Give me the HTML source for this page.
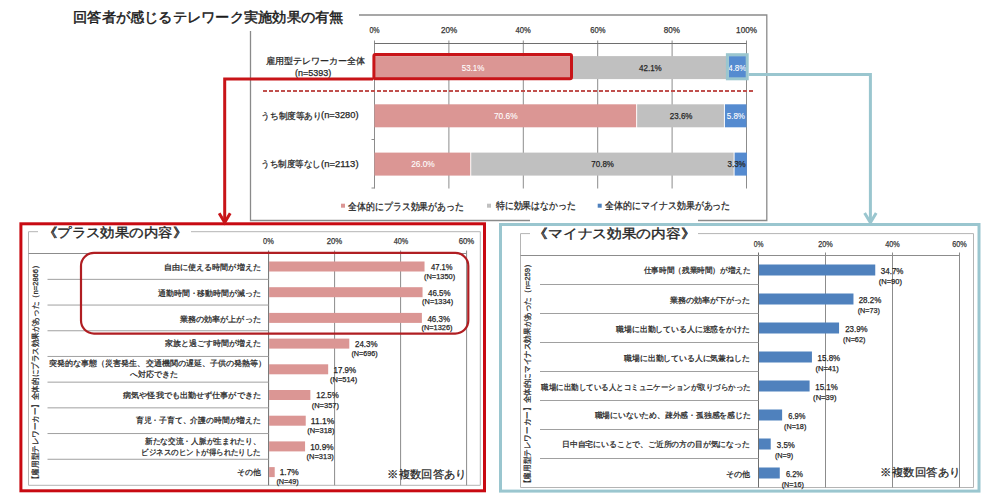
<!DOCTYPE html><html><head><meta charset="utf-8"><style>html,body{margin:0;padding:0;background:#fff;width:994px;height:499px;overflow:hidden}svg{display:block;font-family:"Liberation Sans",sans-serif}</style></head><body>
<svg width="994" height="499" viewBox="0 0 994 499">
<path d="M250.5 31 V220.5 H530 M698 220.5 H766.8 V15 H359" fill="none" stroke="#8a8a8a" stroke-width="1.3"/>
<text x="73.15" y="21.91" font-size="14.2" fill="#1a1a1a" textLength="270.30" lengthAdjust="spacingAndGlyphs" stroke="#1a1a1a" stroke-width="0.45">回答者が感じるテレワーク実施効果の有無</text>
<text x="369.40" y="33.35" font-size="8.8" fill="#333" textLength="10.20" lengthAdjust="spacingAndGlyphs" stroke="#333" stroke-width="0.25">0%</text>
<line x1="374.50" y1="40.50" x2="374.50" y2="188.50" stroke="#8c8c8c" stroke-width="1" />
<text x="441.04" y="33.35" font-size="8.8" fill="#333" textLength="16.17" lengthAdjust="spacingAndGlyphs" stroke="#333" stroke-width="0.25">20%</text>
<line x1="448.90" y1="40.50" x2="448.90" y2="188.50" stroke="#8c8c8c" stroke-width="1" />
<text x="515.57" y="33.35" font-size="8.8" fill="#333" textLength="15.22" lengthAdjust="spacingAndGlyphs" stroke="#333" stroke-width="0.25">40%</text>
<line x1="523.30" y1="40.50" x2="523.30" y2="188.50" stroke="#8c8c8c" stroke-width="1" />
<text x="590.21" y="33.35" font-size="8.8" fill="#333" textLength="15.22" lengthAdjust="spacingAndGlyphs" stroke="#333" stroke-width="0.25">60%</text>
<line x1="597.70" y1="40.50" x2="597.70" y2="188.50" stroke="#8c8c8c" stroke-width="1" />
<text x="663.79" y="33.35" font-size="8.8" fill="#333" textLength="16.17" lengthAdjust="spacingAndGlyphs" stroke="#333" stroke-width="0.25">80%</text>
<line x1="672.10" y1="40.50" x2="672.10" y2="188.50" stroke="#8c8c8c" stroke-width="1" />
<text x="736.10" y="33.35" font-size="8.8" fill="#333" textLength="20.88" lengthAdjust="spacingAndGlyphs" stroke="#333" stroke-width="0.25">100%</text>
<line x1="746.50" y1="40.50" x2="746.50" y2="188.50" stroke="#8c8c8c" stroke-width="1" />
<line x1="374.50" y1="43.50" x2="746.50" y2="43.50" stroke="#6e6e6e" stroke-width="1" />
<line x1="371.50" y1="91.50" x2="374.50" y2="91.50" stroke="#8c8c8c" stroke-width="1" />
<line x1="371.50" y1="139.50" x2="374.50" y2="139.50" stroke="#8c8c8c" stroke-width="1" />
<line x1="371.50" y1="188.00" x2="374.50" y2="188.00" stroke="#8c8c8c" stroke-width="1" />
<rect x="374.50" y="56.10" width="196.53" height="23.00" fill="#db9694" />
<rect x="572.03" y="56.10" width="155.61" height="23.00" fill="#c0c0c0" />
<rect x="728.64" y="56.10" width="17.86" height="23.00" fill="#558bd0" />
<text x="461.72" y="71.15" font-size="8.8" fill="#fff" textLength="22.71" lengthAdjust="spacingAndGlyphs" stroke="#fff" stroke-width="0.1">53.1%</text>
<text x="639.00" y="71.15" font-size="8.8" fill="#262626" textLength="22.71" lengthAdjust="spacingAndGlyphs" stroke="#262626" stroke-width="0.25">42.1%</text>
<text x="728.18" y="71.15" font-size="8.8" fill="#fff" textLength="18.27" lengthAdjust="spacingAndGlyphs" stroke="#fff" stroke-width="0.1">4.8%</text>
<rect x="374.50" y="104.30" width="261.63" height="23.00" fill="#db9694" />
<rect x="637.13" y="104.30" width="86.79" height="23.00" fill="#c0c0c0" />
<rect x="724.92" y="104.30" width="21.58" height="23.00" fill="#558bd0" />
<text x="493.95" y="118.95" font-size="8.8" fill="#fff" textLength="23.65" lengthAdjust="spacingAndGlyphs" stroke="#fff" stroke-width="0.1">70.6%</text>
<text x="669.77" y="118.95" font-size="8.8" fill="#262626" textLength="22.67" lengthAdjust="spacingAndGlyphs" stroke="#262626" stroke-width="0.25">23.6%</text>
<text x="726.73" y="118.95" font-size="8.8" fill="#fff" textLength="18.27" lengthAdjust="spacingAndGlyphs" stroke="#fff" stroke-width="0.1">5.8%</text>
<rect x="374.50" y="152.60" width="95.72" height="23.00" fill="#db9694" />
<rect x="471.22" y="152.60" width="262.38" height="23.00" fill="#c0c0c0" />
<rect x="734.60" y="152.60" width="12.28" height="23.00" fill="#558bd0" />
<text x="411.13" y="167.15" font-size="8.8" fill="#fff" textLength="23.65" lengthAdjust="spacingAndGlyphs" stroke="#fff" stroke-width="0.1">26.0%</text>
<text x="591.31" y="167.15" font-size="8.8" fill="#262626" textLength="22.67" lengthAdjust="spacingAndGlyphs" stroke="#262626" stroke-width="0.25">70.8%</text>
<text x="727.47" y="167.15" font-size="8.8" fill="#262626" textLength="18.27" lengthAdjust="spacingAndGlyphs" stroke="#262626" stroke-width="0.25">3.3%</text>
<text x="266.04" y="64.21" font-size="9.2" fill="#262626" textLength="99.51" lengthAdjust="spacingAndGlyphs" stroke="#262626" stroke-width="0.25">雇用型テレワーカー全体</text>
<text x="295.05" y="75.52" font-size="9" fill="#262626" textLength="36.29" lengthAdjust="spacingAndGlyphs" stroke="#262626" stroke-width="0.25">(n=5393)</text>
<text x="261.21" y="118.71" font-size="9.2" fill="#262626" textLength="60.59" lengthAdjust="spacingAndGlyphs" stroke="#262626" stroke-width="0.25">うち制度等あり</text>
<text x="321.06" y="118.12" font-size="9" fill="#262626" textLength="37.47" lengthAdjust="spacingAndGlyphs" stroke="#262626" stroke-width="0.25">(n=3280)</text>
<text x="261.24" y="166.91" font-size="9.2" fill="#262626" textLength="59.53" lengthAdjust="spacingAndGlyphs" stroke="#262626" stroke-width="0.25">うち制度等なし</text>
<text x="321.06" y="167.32" font-size="9" fill="#262626" textLength="37.50" lengthAdjust="spacingAndGlyphs" stroke="#262626" stroke-width="0.25">(n=2113)</text>
<line x1="263.00" y1="91.00" x2="754.00" y2="91.00" stroke="#c0504d" stroke-width="2" stroke-dasharray="4 2"/>
<rect x="341.00" y="203.70" width="4.00" height="4.00" fill="#db9694" />
<text x="348.39" y="209.70" font-size="10" fill="#262626" textLength="115.41" lengthAdjust="spacingAndGlyphs" stroke="#262626" stroke-width="0.25">全体的にプラス効果があった</text>
<rect x="487.00" y="203.70" width="4.00" height="4.00" fill="#c0c0c0" />
<text x="495.77" y="209.20" font-size="10" fill="#262626" textLength="80.02" lengthAdjust="spacingAndGlyphs" stroke="#262626" stroke-width="0.25">特に効果はなかった</text>
<rect x="597.70" y="203.70" width="4.00" height="4.00" fill="#4f81bd" />
<text x="605.00" y="209.20" font-size="10" fill="#262626" textLength="125.40" lengthAdjust="spacingAndGlyphs" stroke="#262626" stroke-width="0.25">全体的にマイナス効果があった</text>
<rect x="20.9" y="223.8" width="463.6" height="267" fill="none" stroke="#c80a12" stroke-width="3"/>
<path d="M38 231.7 H28.5 V485.3 H480.3 V231.7 H191" fill="none" stroke="#b4b4b4" stroke-width="1"/>
<text x="42.75" y="236.85" font-size="13.2" fill="#262626" textLength="144.20" lengthAdjust="spacingAndGlyphs" stroke="#262626" stroke-width="0.35">《プラス効果の内容》</text>
<text x="263.09" y="244.35" font-size="8.8" fill="#333" textLength="10.74" lengthAdjust="spacingAndGlyphs" stroke="#333" stroke-width="0.25">0%</text>
<text x="326.64" y="244.35" font-size="8.8" fill="#333" textLength="15.50" lengthAdjust="spacingAndGlyphs" stroke="#333" stroke-width="0.25">20%</text>
<line x1="334.60" y1="250.50" x2="334.60" y2="485.30" stroke="#8c8c8c" stroke-width="1" />
<text x="393.63" y="244.35" font-size="8.8" fill="#333" textLength="14.53" lengthAdjust="spacingAndGlyphs" stroke="#333" stroke-width="0.25">40%</text>
<line x1="400.60" y1="250.50" x2="400.60" y2="485.30" stroke="#8c8c8c" stroke-width="1" />
<text x="458.64" y="244.35" font-size="8.8" fill="#333" textLength="15.50" lengthAdjust="spacingAndGlyphs" stroke="#333" stroke-width="0.25">60%</text>
<line x1="466.60" y1="250.50" x2="466.60" y2="485.30" stroke="#8c8c8c" stroke-width="1" />
<line x1="268.60" y1="250.50" x2="268.60" y2="485.30" stroke="#6e6e6e" stroke-width="1" />
<line x1="28.50" y1="253.50" x2="466.60" y2="253.50" stroke="#8c8c8c" stroke-width="1" />
<line x1="47.50" y1="279.35" x2="268.60" y2="279.35" stroke="#a0a0a0" stroke-width="1" />
<rect x="269.10" y="261.50" width="155.43" height="10.00" fill="#db9694" />
<text x="164.12" y="269.58" font-size="8.0" fill="#262626" textLength="96.57" lengthAdjust="spacingAndGlyphs" stroke="#262626" stroke-width="0.25">自由に使える時間が増えた</text>
<text x="430.94" y="270.08" font-size="8.6" fill="#262626" textLength="21.61" lengthAdjust="spacingAndGlyphs" stroke="#262626" stroke-width="0.25">47.1%</text>
<text x="424.02" y="278.56" font-size="8.0" fill="#262626" textLength="31.09" lengthAdjust="spacingAndGlyphs" stroke="#262626" stroke-width="0.25">(N=1350)</text>
<line x1="47.50" y1="305.05" x2="268.60" y2="305.05" stroke="#a0a0a0" stroke-width="1" />
<rect x="269.10" y="287.20" width="153.45" height="10.00" fill="#db9694" />
<text x="157.92" y="295.88" font-size="8.0" fill="#262626" textLength="102.77" lengthAdjust="spacingAndGlyphs" stroke="#262626" stroke-width="0.25">通勤時間・移動時間が減った</text>
<text x="428.02" y="295.88" font-size="8.6" fill="#262626" textLength="22.59" lengthAdjust="spacingAndGlyphs" stroke="#262626" stroke-width="0.25">46.5%</text>
<text x="422.10" y="304.36" font-size="8.0" fill="#262626" textLength="31.09" lengthAdjust="spacingAndGlyphs" stroke="#262626" stroke-width="0.25">(N=1334)</text>
<line x1="47.50" y1="330.75" x2="268.60" y2="330.75" stroke="#a0a0a0" stroke-width="1" />
<rect x="269.10" y="312.90" width="152.79" height="10.00" fill="#db9694" />
<text x="179.91" y="321.68" font-size="8.0" fill="#262626" textLength="80.77" lengthAdjust="spacingAndGlyphs" stroke="#262626" stroke-width="0.25">業務の効率が上がった</text>
<text x="427.44" y="321.68" font-size="8.6" fill="#262626" textLength="22.51" lengthAdjust="spacingAndGlyphs" stroke="#262626" stroke-width="0.25">46.3%</text>
<text x="421.44" y="330.16" font-size="8.0" fill="#262626" textLength="31.09" lengthAdjust="spacingAndGlyphs" stroke="#262626" stroke-width="0.25">(N=1326)</text>
<line x1="47.50" y1="356.45" x2="268.60" y2="356.45" stroke="#a0a0a0" stroke-width="1" />
<rect x="269.10" y="338.60" width="80.19" height="10.00" fill="#db9694" />
<text x="164.92" y="345.98" font-size="8.0" fill="#262626" textLength="95.76" lengthAdjust="spacingAndGlyphs" stroke="#262626" stroke-width="0.25">家族と過ごす時間が増えた</text>
<text x="355.02" y="347.48" font-size="8.6" fill="#262626" textLength="22.59" lengthAdjust="spacingAndGlyphs" stroke="#262626" stroke-width="0.25">24.3%</text>
<text x="351.47" y="355.96" font-size="8.0" fill="#262626" textLength="26.25" lengthAdjust="spacingAndGlyphs" stroke="#262626" stroke-width="0.25">(N=696)</text>
<line x1="47.50" y1="382.15" x2="268.60" y2="382.15" stroke="#a0a0a0" stroke-width="1" />
<rect x="269.10" y="364.30" width="59.07" height="10.00" fill="#db9694" />
<text x="49.31" y="366.38" font-size="8.0" fill="#262626" textLength="216.47" lengthAdjust="spacingAndGlyphs" stroke="#262626" stroke-width="0.25">突発的な事態（災害発生、交通機関の遅延、子供の発熱等）</text>
<text x="130.12" y="376.78" font-size="8.0" fill="#262626" textLength="48.17" lengthAdjust="spacingAndGlyphs" stroke="#262626" stroke-width="0.25">へ対応できた</text>
<text x="333.54" y="373.28" font-size="8.6" fill="#262626" textLength="22.59" lengthAdjust="spacingAndGlyphs" stroke="#262626" stroke-width="0.25">17.9%</text>
<text x="330.01" y="381.76" font-size="8.0" fill="#262626" textLength="27.18" lengthAdjust="spacingAndGlyphs" stroke="#262626" stroke-width="0.25">(N=514)</text>
<line x1="47.50" y1="407.85" x2="268.60" y2="407.85" stroke="#a0a0a0" stroke-width="1" />
<rect x="269.10" y="390.00" width="41.25" height="10.00" fill="#db9694" />
<text x="123.12" y="397.58" font-size="8.0" fill="#262626" textLength="137.76" lengthAdjust="spacingAndGlyphs" stroke="#262626" stroke-width="0.25">病気や怪我でも出勤せず仕事ができた</text>
<text x="316.27" y="398.08" font-size="8.6" fill="#262626" textLength="22.55" lengthAdjust="spacingAndGlyphs" stroke="#262626" stroke-width="0.25">12.5%</text>
<text x="311.69" y="407.56" font-size="8.0" fill="#262626" textLength="27.26" lengthAdjust="spacingAndGlyphs" stroke="#262626" stroke-width="0.25">(N=357)</text>
<line x1="47.50" y1="433.55" x2="268.60" y2="433.55" stroke="#a0a0a0" stroke-width="1" />
<rect x="269.10" y="415.70" width="36.63" height="10.00" fill="#db9694" />
<text x="135.72" y="423.38" font-size="8.0" fill="#262626" textLength="125.17" lengthAdjust="spacingAndGlyphs" stroke="#262626" stroke-width="0.25">育児・子育て、介護の時間が増えた</text>
<text x="310.79" y="423.88" font-size="8.6" fill="#262626" textLength="23.53" lengthAdjust="spacingAndGlyphs" stroke="#262626" stroke-width="0.25">11.1%</text>
<text x="307.24" y="433.36" font-size="8.0" fill="#262626" textLength="27.22" lengthAdjust="spacingAndGlyphs" stroke="#262626" stroke-width="0.25">(N=318)</text>
<line x1="47.50" y1="459.25" x2="268.60" y2="459.25" stroke="#a0a0a0" stroke-width="1" />
<rect x="269.10" y="441.40" width="35.97" height="10.00" fill="#db9694" />
<text x="144.92" y="443.78" font-size="8.0" fill="#262626" textLength="115.49" lengthAdjust="spacingAndGlyphs" stroke="#262626" stroke-width="0.25">新たな交流・人脈が生まれたり、</text>
<text x="141.32" y="454.68" font-size="8.0" fill="#262626" textLength="119.56" lengthAdjust="spacingAndGlyphs" stroke="#262626" stroke-width="0.25">ビジネスのヒントが得られたりした</text>
<text x="310.14" y="449.68" font-size="8.6" fill="#262626" textLength="23.53" lengthAdjust="spacingAndGlyphs" stroke="#262626" stroke-width="0.25">10.9%</text>
<text x="306.61" y="459.16" font-size="8.0" fill="#262626" textLength="27.18" lengthAdjust="spacingAndGlyphs" stroke="#262626" stroke-width="0.25">(N=313)</text>
<rect x="269.10" y="467.10" width="5.61" height="10.00" fill="#db9694" />
<text x="236.90" y="475.48" font-size="8.0" fill="#262626" textLength="23.65" lengthAdjust="spacingAndGlyphs" stroke="#262626" stroke-width="0.25">その他</text>
<text x="279.68" y="475.48" font-size="8.6" fill="#262626" textLength="19.10" lengthAdjust="spacingAndGlyphs" stroke="#262626" stroke-width="0.25">1.7%</text>
<text x="276.41" y="483.96" font-size="8.0" fill="#262626" textLength="22.30" lengthAdjust="spacingAndGlyphs" stroke="#262626" stroke-width="0.25">(N=49)</text>
<rect x="81" y="252.9" width="387.3" height="80.7" rx="13" ry="13" fill="none" stroke="#b01e22" stroke-width="2.2"/>
<text transform="translate(35,372.3) rotate(-90)" x="0" y="2.88" font-size="8" text-anchor="middle" fill="#262626" stroke="#262626" stroke-width="0.25" textLength="221.7" lengthAdjust="spacingAndGlyphs">【雇用型テレワーカー】全体的にプラス効果があった（n=2866）</text>
<text x="387.33" y="478.46" font-size="11" fill="#262626" textLength="79.38" lengthAdjust="spacingAndGlyphs" stroke="#262626" stroke-width="0.25">※複数回答あり</text>
<rect x="500.5" y="224.5" width="478.5" height="266.6" fill="none" stroke="#9ac6cf" stroke-width="3"/>
<path d="M530 233.6 H520.5 V487.5 H973.5 V233.6 H698" fill="none" stroke="#b4b4b4" stroke-width="1"/>
<text x="533.49" y="238.05" font-size="13.2" fill="#262626" textLength="161.79" lengthAdjust="spacingAndGlyphs" stroke="#262626" stroke-width="0.35">《マイナス効果の内容》</text>
<text x="753.68" y="246.55" font-size="8.8" fill="#333" textLength="9.76" lengthAdjust="spacingAndGlyphs" stroke="#333" stroke-width="0.25">0%</text>
<text x="818.21" y="246.55" font-size="8.8" fill="#333" textLength="14.59" lengthAdjust="spacingAndGlyphs" stroke="#333" stroke-width="0.25">20%</text>
<line x1="825.50" y1="252.50" x2="825.50" y2="487.50" stroke="#8c8c8c" stroke-width="1" />
<text x="885.22" y="246.55" font-size="8.8" fill="#333" textLength="14.53" lengthAdjust="spacingAndGlyphs" stroke="#333" stroke-width="0.25">40%</text>
<line x1="892.50" y1="252.50" x2="892.50" y2="487.50" stroke="#8c8c8c" stroke-width="1" />
<text x="952.21" y="246.55" font-size="8.8" fill="#333" textLength="14.59" lengthAdjust="spacingAndGlyphs" stroke="#333" stroke-width="0.25">60%</text>
<line x1="959.50" y1="252.50" x2="959.50" y2="487.50" stroke="#8c8c8c" stroke-width="1" />
<line x1="758.50" y1="252.50" x2="758.50" y2="487.50" stroke="#6e6e6e" stroke-width="1" />
<line x1="520.50" y1="255.50" x2="959.50" y2="255.50" stroke="#8c8c8c" stroke-width="1" />
<line x1="540.00" y1="284.50" x2="758.50" y2="284.50" stroke="#a0a0a0" stroke-width="1" />
<rect x="759.00" y="264.50" width="116.25" height="11.00" fill="#4f81bd" />
<text x="643.73" y="273.11" font-size="7.8" fill="#262626" textLength="106.94" lengthAdjust="spacingAndGlyphs" stroke="#262626" stroke-width="0.25">仕事時間（残業時間）が増えた</text>
<text x="880.84" y="274.48" font-size="8.6" fill="#262626" textLength="22.59" lengthAdjust="spacingAndGlyphs" stroke="#262626" stroke-width="0.25">34.7%</text>
<text x="878.73" y="283.76" font-size="8.0" fill="#262626" textLength="23.31" lengthAdjust="spacingAndGlyphs" stroke="#262626" stroke-width="0.25">(N=90)</text>
<line x1="540.00" y1="313.50" x2="758.50" y2="313.50" stroke="#a0a0a0" stroke-width="1" />
<rect x="759.00" y="293.50" width="94.47" height="11.00" fill="#4f81bd" />
<text x="669.53" y="302.61" font-size="7.8" fill="#262626" textLength="80.14" lengthAdjust="spacingAndGlyphs" stroke="#262626" stroke-width="0.25">業務の効率が下がった</text>
<text x="858.70" y="303.48" font-size="8.6" fill="#262626" textLength="22.59" lengthAdjust="spacingAndGlyphs" stroke="#262626" stroke-width="0.25">28.2%</text>
<text x="857.68" y="312.76" font-size="8.0" fill="#262626" textLength="22.30" lengthAdjust="spacingAndGlyphs" stroke="#262626" stroke-width="0.25">(N=73)</text>
<line x1="540.00" y1="342.50" x2="758.50" y2="342.50" stroke="#a0a0a0" stroke-width="1" />
<rect x="759.00" y="322.50" width="80.06" height="11.00" fill="#4f81bd" />
<text x="616.13" y="331.61" font-size="7.8" fill="#262626" textLength="133.54" lengthAdjust="spacingAndGlyphs" stroke="#262626" stroke-width="0.25">職場に出勤している人に迷惑をかけた</text>
<text x="845.14" y="332.48" font-size="8.6" fill="#262626" textLength="22.51" lengthAdjust="spacingAndGlyphs" stroke="#262626" stroke-width="0.25">23.9%</text>
<text x="843.03" y="341.76" font-size="8.0" fill="#262626" textLength="22.30" lengthAdjust="spacingAndGlyphs" stroke="#262626" stroke-width="0.25">(N=62)</text>
<line x1="540.00" y1="371.50" x2="758.50" y2="371.50" stroke="#a0a0a0" stroke-width="1" />
<rect x="759.00" y="351.50" width="52.93" height="11.00" fill="#4f81bd" />
<text x="624.33" y="360.61" font-size="7.8" fill="#262626" textLength="125.33" lengthAdjust="spacingAndGlyphs" stroke="#262626" stroke-width="0.25">職場に出勤している人に気兼ねした</text>
<text x="817.61" y="361.48" font-size="8.6" fill="#262626" textLength="22.51" lengthAdjust="spacingAndGlyphs" stroke="#262626" stroke-width="0.25">15.8%</text>
<text x="815.49" y="370.76" font-size="8.0" fill="#262626" textLength="23.31" lengthAdjust="spacingAndGlyphs" stroke="#262626" stroke-width="0.25">(N=41)</text>
<line x1="540.00" y1="400.50" x2="758.50" y2="400.50" stroke="#a0a0a0" stroke-width="1" />
<rect x="759.00" y="380.50" width="50.59" height="11.00" fill="#4f81bd" />
<text x="541.33" y="389.61" font-size="7.8" fill="#262626" textLength="209.34" lengthAdjust="spacingAndGlyphs" stroke="#262626" stroke-width="0.25">職場に出勤している人とコミュニケーションが取りづらかった</text>
<text x="815.24" y="390.48" font-size="8.6" fill="#262626" textLength="22.51" lengthAdjust="spacingAndGlyphs" stroke="#262626" stroke-width="0.25">15.1%</text>
<text x="813.12" y="399.76" font-size="8.0" fill="#262626" textLength="23.31" lengthAdjust="spacingAndGlyphs" stroke="#262626" stroke-width="0.25">(N=39)</text>
<line x1="540.00" y1="429.50" x2="758.50" y2="429.50" stroke="#a0a0a0" stroke-width="1" />
<rect x="759.00" y="409.50" width="23.12" height="11.00" fill="#4f81bd" />
<text x="594.53" y="418.11" font-size="7.8" fill="#262626" textLength="156.15" lengthAdjust="spacingAndGlyphs" stroke="#262626" stroke-width="0.25">職場にいないため、疎外感・孤独感を感じた</text>
<text x="788.30" y="419.48" font-size="8.6" fill="#262626" textLength="17.14" lengthAdjust="spacingAndGlyphs" stroke="#262626" stroke-width="0.25">6.9%</text>
<text x="784.01" y="428.76" font-size="8.0" fill="#262626" textLength="22.30" lengthAdjust="spacingAndGlyphs" stroke="#262626" stroke-width="0.25">(N=18)</text>
<line x1="540.00" y1="458.50" x2="758.50" y2="458.50" stroke="#a0a0a0" stroke-width="1" />
<rect x="759.00" y="438.50" width="11.72" height="11.00" fill="#4f81bd" />
<text x="561.93" y="447.11" font-size="7.8" fill="#262626" textLength="187.74" lengthAdjust="spacingAndGlyphs" stroke="#262626" stroke-width="0.25">日中自宅にいることで、ご近所の方の目が気になった</text>
<text x="776.79" y="448.48" font-size="8.6" fill="#262626" textLength="18.04" lengthAdjust="spacingAndGlyphs" stroke="#262626" stroke-width="0.25">3.5%</text>
<text x="774.90" y="457.76" font-size="8.0" fill="#262626" textLength="18.37" lengthAdjust="spacingAndGlyphs" stroke="#262626" stroke-width="0.25">(N=9)</text>
<rect x="759.00" y="467.50" width="20.77" height="11.00" fill="#4f81bd" />
<text x="725.71" y="476.61" font-size="7.8" fill="#262626" textLength="24.02" lengthAdjust="spacingAndGlyphs" stroke="#262626" stroke-width="0.25">その他</text>
<text x="785.94" y="477.48" font-size="8.6" fill="#262626" textLength="17.09" lengthAdjust="spacingAndGlyphs" stroke="#262626" stroke-width="0.25">6.2%</text>
<text x="781.65" y="486.76" font-size="8.0" fill="#262626" textLength="22.30" lengthAdjust="spacingAndGlyphs" stroke="#262626" stroke-width="0.25">(N=16)</text>
<text transform="translate(527,373.8) rotate(-90)" x="0" y="2.88" font-size="8" text-anchor="middle" fill="#262626" stroke="#262626" stroke-width="0.25" textLength="226.8" lengthAdjust="spacingAndGlyphs">【雇用型テレワーカー】全体的にマイナス効果があった（n=259）</text>
<text x="880.51" y="475.66" font-size="11" fill="#262626" textLength="79.99" lengthAdjust="spacingAndGlyphs" stroke="#262626" stroke-width="0.25">※複数回答あり</text>
<rect x="373.9" y="54.5" width="197.6" height="24.3" rx="1.5" fill="none" stroke="#c81418" stroke-width="3"/>
<rect x="727.4" y="54.7" width="19.8" height="24.1" fill="none" stroke="#9ac6cf" stroke-width="3"/>
<path d="M373 79 H224.7 V222" fill="none" stroke="#c81418" stroke-width="3"/>
<path d="M219.2 213.3 L224.7 222.5 L230.2 213.3" fill="none" stroke="#c81418" stroke-width="3"/>
<path d="M748.7 74.4 H870.4 V222" fill="none" stroke="#9ac6cf" stroke-width="3"/>
<path d="M864.6 213 L870.4 222.5 L876.2 213" fill="none" stroke="#9ac6cf" stroke-width="3"/>
</svg></body></html>
